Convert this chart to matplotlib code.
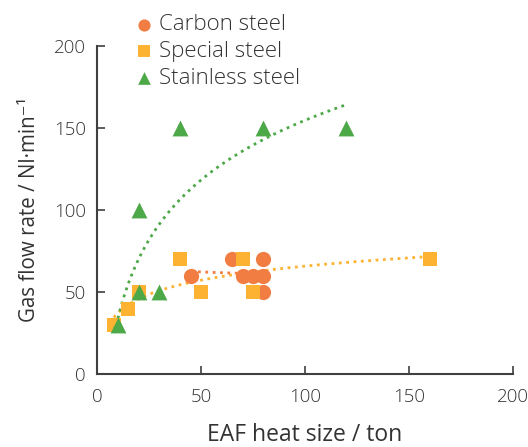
import numpy as np
import matplotlib
matplotlib.use("Agg")
import matplotlib.pyplot as plt

plt.rcParams['font.family'] = ['Open Sans', 'DejaVu Sans']
plt.rcParams['font.weight'] = 'light'

# heat size (ton) and gas flow rate (Nl/min) per steel grade
carbon_x = [45, 65, 70, 75, 80, 80, 80]
carbon_y = [60, 70, 60, 60, 60, 70, 50]
special_x = [8, 15, 20, 40, 50, 70, 75, 160]
special_y = [30, 40, 50, 70, 50, 70, 50, 70]
stainless_x = [10, 20, 20, 30, 40, 80, 120]
stainless_y = [30, 100, 50, 50, 150, 150, 150]

c_carbon = '#F27D42'
c_special = '#FDB232'
c_stainless = '#4DA847'

fig = plt.figure(figsize=(5.28, 4.47), dpi=100)
ax = fig.add_axes([0.184, 0.163, 0.787, 0.734])


def log_trend(x, y, color):
    # logarithmic trend line y = a ln(x) + b over the data range
    a, b = np.polyfit(np.log(x), y, 1)
    xs = np.linspace(min(x), max(x), 200)
    ax.plot(xs, a * np.log(xs) + b, ':', color=color, lw=2, zorder=2)


log_trend(carbon_x, carbon_y, c_carbon)
log_trend(special_x, special_y, c_special)
log_trend(stainless_x, stainless_y, c_stainless)

ax.scatter(carbon_x, carbon_y, s=120, marker='o', color=c_carbon, label='Carbon steel', zorder=3, linewidths=0)
ax.scatter(special_x, special_y, s=110, marker='s', color=c_special, label='Special steel', zorder=3, linewidths=0)
ax.scatter(stainless_x, stainless_y, s=130, marker='^', color=c_stainless, label='Stainless steel', zorder=4, linewidths=0)

ax.set_xlim(0, 200)
ax.set_ylim(0, 200)
ax.set_xticks([0, 50, 100, 150, 200])
ax.set_yticks([0, 50, 100, 150, 200])
for s in ['top', 'right']:
    ax.spines[s].set_visible(False)
for s in ['left', 'bottom']:
    ax.spines[s].set_color('#404040')
    ax.spines[s].set_linewidth(1.5)
ax.tick_params(direction='in', length=6, width=1.2, color='#404040',
               labelsize=13.5, labelcolor='#333333')
ax.tick_params(axis='x', pad=10)
ax.tick_params(axis='y', pad=8)

ax.set_xlabel('EAF heat size / ton', fontsize=16.5, color='#333333', labelpad=12)
ax.set_ylabel('Gas flow rate / Nl·min⁻¹', fontsize=14.8, color='#333333', labelpad=10)

ax.legend(loc='upper left', bbox_to_anchor=(0.06, 1.13), frameon=False,
          fontsize=16, handletextpad=0.15, labelspacing=0.25, borderpad=0,
          handlelength=1.0, markerscale=0.8, labelcolor='#333333')

fig.savefig('out.png', dpi=100)
